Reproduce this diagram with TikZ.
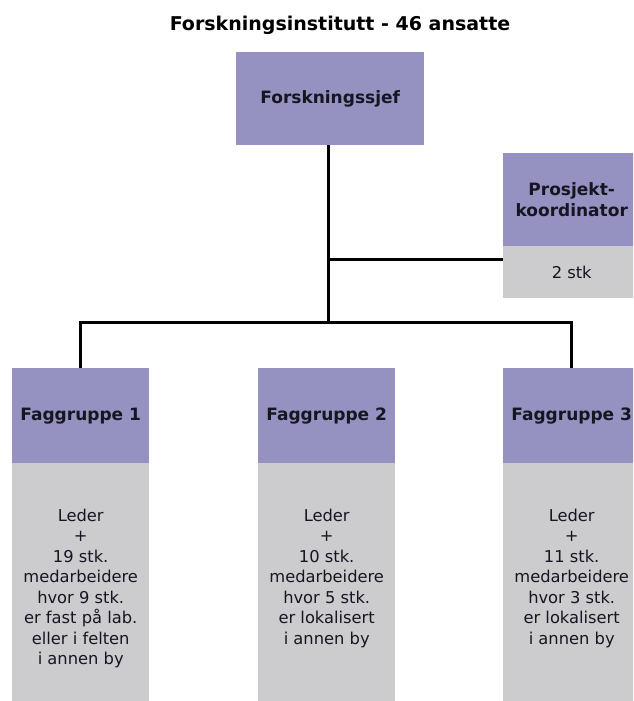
\documentclass[tikz,border=0pt]{standalone}
\usepackage{fontspec}
\setmainfont{DejaVu Sans}
\usetikzlibrary{calc}

\definecolor{headpurple}{RGB}{149,145,192}
\definecolor{bodygrey}{RGB}{204,203,205}
\definecolor{inktext}{RGB}{22,22,34}

\tikzset{
  headbox/.style={rectangle, fill=headpurple, draw=none, inner sep=0pt,
    anchor=north west, align=center, text=inktext,
    font=\fontsize{17}{21}\selectfont\bfseries},
  bodybox/.style={rectangle, fill=bodygrey, draw=none, inner sep=0pt,
    anchor=north west, align=center, text=inktext,
    font=\fontsize{16.3}{20.5}\selectfont},
  bodytext/.style={inner sep=0pt, align=center, text=inktext,
    font=\fontsize{16.3}{20.5}\selectfont},
  link/.style={draw=black, line width=3pt},
}

\begin{document}
\begin{tikzpicture}[x=1pt, y=-1pt]
  \useasboundingbox (0,0) rectangle (633,701);
  \clip (0,0) rectangle (633,701);

  % title
  \node[anchor=base, inner sep=0pt, text=black,
        font=\fontsize{19}{23}\selectfont\bfseries] (title) at (340,30.5)
        {Forskningsinstitutt - 46 ansatte};

  % head of the institute
  \node[headbox, minimum width=188pt, minimum height=93pt] (chief) at (236,52)
        {Forskningssjef};

  % project coordinators (grey panel tucked half a point under the header)
  \node[bodybox, minimum width=137pt, minimum height=52.5pt] (pkb) at (503,245.5)
        {2 stk};
  \node[headbox, minimum width=137pt, minimum height=93pt] (pkh) at (503,153)
        {Prosjekt-\\koordinator};

  % research groups: grey panel, header, member text
  \node[bodybox, minimum width=137pt, minimum height=250pt] (f1b) at (12,462.5) {};
  \node[headbox, minimum width=137pt, minimum height=95pt] (f1h) at (12,368) {Faggruppe 1};
  \node[bodytext, anchor=north] (f1t) at ([yshift=-46pt]f1b.north)
        {Leder\\+\\19 stk.\\medarbeidere\\hvor 9 stk.\\er fast på lab.\\eller i felten\\i annen by};

  \node[bodybox, minimum width=137pt, minimum height=250pt] (f2b) at (258,462.5) {};
  \node[headbox, minimum width=137pt, minimum height=95pt] (f2h) at (258,368) {Faggruppe 2};
  \node[bodytext, anchor=north] (f2t) at ([yshift=-46pt]f2b.north)
        {Leder\\+\\10 stk.\\medarbeidere\\hvor 5 stk.\\er lokalisert\\i annen by};

  \node[bodybox, minimum width=137pt, minimum height=250pt] (f3b) at (503,462.5) {};
  \node[headbox, minimum width=137pt, minimum height=95pt] (f3h) at (503,368) {Faggruppe 3};
  \node[bodytext, anchor=north] (f3t) at ([yshift=-46pt]f3b.north)
        {Leder\\+\\11 stk.\\medarbeidere\\hvor 3 stk.\\er lokalisert\\i annen by};

  % connectors
  \coordinate (bar) at ($(chief.south)+(-2,177)$);
  \coordinate (pkjoin) at ($(pkh.south west)+(0,13)$);
  \draw[link] (chief.south -| bar) -- (bar);
  \draw[link] (bar |- pkjoin) -- (pkjoin);
  \draw[link] (f1h.north) -- (f1h.north |- bar) -- (f3h.north |- bar) -- (f3h.north);
\end{tikzpicture}
\end{document}
